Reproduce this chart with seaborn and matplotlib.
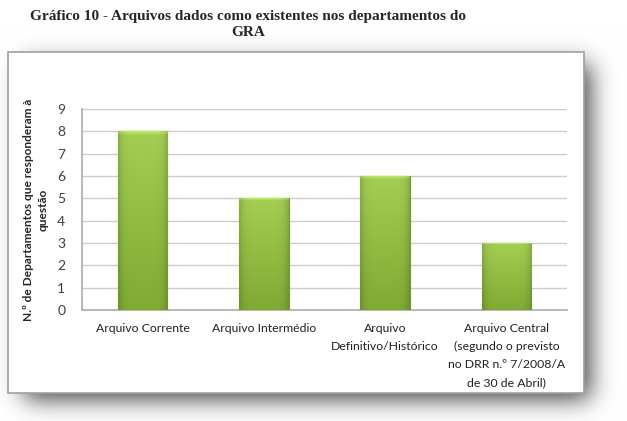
import numpy as np
import pandas as pd
import matplotlib
matplotlib.use("Agg")
import matplotlib.pyplot as plt
import seaborn as sns
from matplotlib.patches import Rectangle

categories = ["Arquivo Corrente", "Arquivo Intermédio", "Arquivo\nDefinitivo/Histórico",
              "Arquivo Central\n(segundo o previsto\nno DRR n.º 7/2008/A\nde 30 de Abril)"]
values = [8, 5, 6, 3]
yticks = list(range(0, 10))
title = "Gráfico 10 - Arquivos dados como existentes nos departamentos do\nGRA"
ylabel = "N.º de Departamentos que responderam à\nquestão"

sns.set_theme(style="white")
plt.rcParams['font.family'] = ['Lato', 'DejaVu Sans']

W, H = 627, 421
fig = plt.figure(figsize=(W / 100, H / 100), dpi=100)
fig.patch.set_facecolor("white")

# --- drop shadow of the chart box (pixel image) ---
bx0, by0, bx1, by1 = 8, 52, 584, 393
sh = np.zeros((H, W))
sh[by0 + 12:by1 + 6, bx0 + 16:bx1 + 6] = 1.0
k = np.exp(-0.5 * (np.arange(-40, 41) / 12.0) ** 2)
k /= k.sum()
sh = np.apply_along_axis(lambda r: np.convolve(r, k, mode="same"), 1, sh)
sh = np.apply_along_axis(lambda c: np.convolve(c, k, mode="same"), 0, sh)
shade = 1.0 - 0.75 * sh
img = np.dstack([shade, shade, shade, np.ones_like(shade)])
fig.figimage(img, xo=0, yo=0, origin="upper", zorder=0)

# box
fig.patches.append(Rectangle((bx0 / W, 1 - by1 / H), (bx1 - bx0) / W, (by1 - by0) / H,
                             transform=fig.transFigure, facecolor="white",
                             edgecolor="#a0a0a0", linewidth=1.2, zorder=1))

fig.text(248 / W, 1 - 10 / H, title, ha="center", va="top",
         fontsize=11.0, fontweight="bold", family=["Liberation Serif", "DejaVu Serif"],
         linespacing=1.3, zorder=3)

ax = fig.add_axes([82 / W, 1 - 310 / H, (567 - 82) / W, (310 - 109) / H], zorder=2)
ax.set_facecolor("none")
df = pd.DataFrame({"cat": categories, "val": values})
sns.barplot(data=df, x="cat", y="val", ax=ax, width=0.41, color="#8dba3b",
            edgecolor="#6f9a2a", linewidth=0.8, zorder=3)

ax.set_ylim(0, 9)
ax.set_yticks(yticks)
ax.yaxis.grid(True, color="#cccccc", linewidth=1.0)
ax.set_axisbelow(True)
for s in ["top", "right"]:
    ax.spines[s].set_visible(False)
ax.spines["left"].set_color("#b0b0b0")
ax.spines["bottom"].set_color("#b0b0b0")
ax.tick_params(axis="y", length=0, labelsize=10, colors="#404040", pad=12)
ax.tick_params(axis="x", length=0, labelsize=8.8, colors="#222222", pad=9)
for t in ax.get_xticklabels():
    t.set_linespacing(1.8)
ax.set_xlabel("")
ax.set_ylabel(ylabel, fontsize=8.6, fontweight="bold", labelpad=6, linespacing=1.45)

# gradient fill for bars
ny, nx = 64, 32
yy = np.linspace(0, 1, ny)[:, None]
xx = np.linspace(-1, 1, nx)[None, :]
top = np.array([0.64, 0.81, 0.32])
bot = np.array([0.50, 0.67, 0.20])
base = top[None, None, :] * (1 - yy[..., None]) + bot[None, None, :] * yy[..., None]
edge = 1 - 0.15 * np.abs(xx[..., None]) ** 6
grad = np.clip(base * edge, 0, 1)
grad[0:1] = np.clip(grad[0:1] * 1.12, 0, 1)
for p in ax.patches:
    x0, y0 = p.get_x(), p.get_y()
    w, h = p.get_width(), p.get_height()
    im = ax.imshow(grad, extent=[x0, x0 + w, y0, y0 + h], origin="upper",
                   aspect="auto", zorder=3.5)
    im.set_clip_path(p)
ax.set_xlim(-0.5, len(categories) - 0.5)
ax.set_ylim(0, 9)

fig.savefig("out.png", dpi=100, facecolor="white")
